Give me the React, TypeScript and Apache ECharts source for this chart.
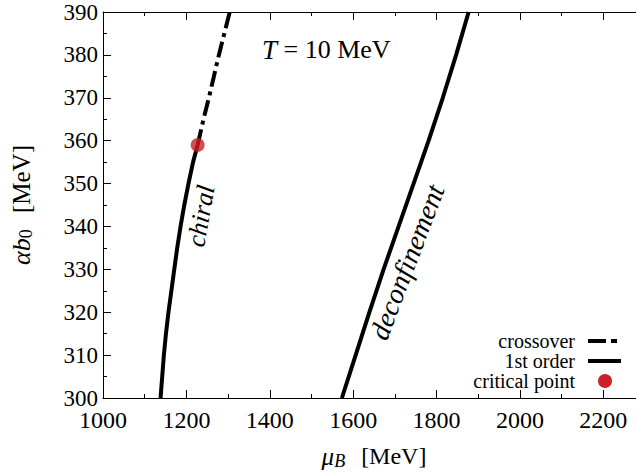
import React, { useEffect, useRef } from "react";
import * as echarts from "echarts";

const chiralFirstOrder: [number, number][] = [
  [1138, 300], [1142, 305], [1146, 310], [1151, 315], [1157, 320], [1164, 325],
  [1171, 330], [1178, 335], [1186, 340], [1195, 345], [1205, 350], [1216, 355], [1227, 359],
];
const chiralCrossover: [number, number][] = [
  [1227, 359], [1241, 365], [1254, 370], [1266, 375], [1278, 380], [1291, 385], [1304, 390],
];
const deconfinement: [number, number][] = [
  [1573, 300], [1606, 310], [1639, 320], [1673, 330], [1709, 340], [1745, 350],
  [1781, 360], [1815, 370], [1847, 380], [1877, 390],
];
const criticalPoint: [number, number][] = [[1227, 359]];

const xTicks = { min: 1000, max: 2300, interval: 200 };
const yTicks = { min: 300, max: 390, interval: 10 };

const FONT = "Liberation Serif";
const RED = "#cc1f28";

export default function App() {
  const ref = useRef<HTMLDivElement>(null);
  useEffect(() => {
    if (!ref.current) return;
    const chart = echarts.init(ref.current, undefined, { renderer: "svg" });
    const axisCommon = {
      axisLine: { show: true, lineStyle: { color: "#000", width: 1 } },
      axisTick: { show: true, inside: true, length: 8, lineStyle: { color: "#000", width: 1 } },
      minorTick: { show: true, splitNumber: 2, length: 4, lineStyle: { color: "#000", width: 1 } },
      splitLine: { show: false },
      minorSplitLine: { show: false },
    };
    const lineBase = { type: "line", symbol: "none", smooth: false, z: 3 };
    const legendText = (text: string, y: number) => ({
      type: "text", x: 575, y,
      style: { text, fill: "#000", fontFamily: FONT, fontSize: 20, lineHeight: 18, align: "right", verticalAlign: "middle" },
    });
    chart.setOption({
      animation: false,
      backgroundColor: "#fff",
      grid: { left: 95, right: 0, top: 12, bottom: 74, containLabel: false },
      xAxis: [
        {
          type: "value", ...xTicks, position: "bottom",
          ...axisCommon,
          axisLabel: {
            color: "#000", fontFamily: FONT, fontSize: 24, lineHeight: 18, margin: 13, showMaxLabel: false,
            formatter: (v: number) => String(v),
          },
          name: "{i|μ}{s|B} [MeV]",
          nameLocation: "middle",
          nameGap: 44,
          nameTextStyle: {
            color: "#000", fontFamily: FONT, fontSize: 24,
            rich: {
              i: { fontFamily: FONT, fontStyle: "italic", fontSize: 25, color: "#000" },
              s: { fontFamily: FONT, fontStyle: "italic", fontSize: 18, color: "#000", padding: [10, 10, 0, 0] },
            },
          },
        },
        {
          type: "value", ...xTicks, position: "top",
          ...axisCommon,
          axisLabel: { show: false },
        },
      ],
      yAxis: [
        {
          type: "value", ...yTicks, position: "left",
          ...axisCommon,
          axisLabel: { color: "#000", fontFamily: FONT, fontSize: 23, lineHeight: 18, margin: 5, formatter: (v: number) => String(v) },
          name: "{i|αb}{s|0} [MeV]",
          nameLocation: "middle",
          nameGap: 68,
          nameRotate: 90,
          nameTextStyle: {
            color: "#000", fontFamily: FONT, fontSize: 25,
            rich: {
              i: { fontFamily: FONT, fontStyle: "italic", fontSize: 26, color: "#000" },
              s: { fontFamily: FONT, fontSize: 18, color: "#000", padding: [10, 10, 0, 0] },
            },
          },
        },
        {
          type: "value", ...yTicks, position: "right",
          ...axisCommon,
          axisLabel: { show: false },
        },
      ],
      series: [
        { ...lineBase, name: "1st order", data: chiralFirstOrder, lineStyle: { color: "#000", width: 4 } },
        { ...lineBase, name: "crossover", data: chiralCrossover, lineStyle: { color: "#000", width: 4, type: [16, 5, 4, 5] } },
        { ...lineBase, name: "deconfinement", data: deconfinement, lineStyle: { color: "#000", width: 4 } },
        {
          type: "scatter", name: "critical point", data: criticalPoint, symbol: "circle", symbolSize: 14,
          itemStyle: { color: RED }, z: 5,
        },
      ],
      graphic: [
        {
          type: "text", left: 262, top: 36,
          style: {
            text: "{i|T} = 10 MeV", fill: "#000", fontFamily: FONT, fontSize: 26,
            rich: { i: { fontStyle: "italic", fontFamily: FONT, fontSize: 27 } },
          },
        },
        {
          type: "text", x: 201, y: 216, rotation: (80 * Math.PI) / 180,
          style: { text: "chiral", fill: "#000", fontFamily: FONT, fontStyle: "italic", fontSize: 26, align: "center", verticalAlign: "middle" },
        },
        {
          type: "text", x: 407, y: 262, rotation: (69 * Math.PI) / 180,
          style: { text: "deconfinement", fill: "#000", fontFamily: FONT, fontStyle: "italic", fontSize: 28, align: "center", verticalAlign: "middle" },
        },
        legendText("crossover", 341),
        legendText("1st order", 361),
        legendText("critical point", 381),
        {
          type: "line", shape: { x1: 588, y1: 341, x2: 621, y2: 341 },
          style: { stroke: "#000", lineWidth: 4, lineDash: [18, 5, 6, 5] },
        },
        {
          type: "line", shape: { x1: 588, y1: 361, x2: 621, y2: 361 },
          style: { stroke: "#000", lineWidth: 4 },
        },
        {
          type: "circle", shape: { cx: 605, cy: 381, r: 7 },
          style: { fill: RED },
        },
      ],
    });
    return () => chart.dispose();
  }, []);
  return (
    <div style={{ position: "absolute", left: 0, top: 0, width: 636, height: 475, overflow: "hidden", background: "#fff" }}>
      <div ref={ref} style={{ width: 645, height: 475 }} />
    </div>
  );
}
